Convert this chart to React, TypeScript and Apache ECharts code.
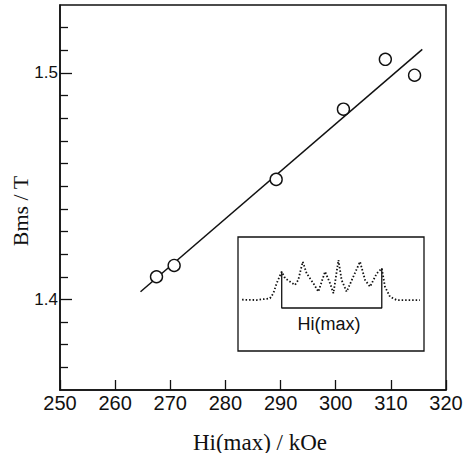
import React, { useEffect, useRef } from "react";
import * as echarts from "echarts";

// Main data: Hi(max) [kOe] vs Bms [T]
const hiMax = [267.5, 270.7, 289.2, 301.4, 309.0, 314.3];
const bms = [1.410, 1.415, 1.453, 1.484, 1.506, 1.499];

// Fitted line end points
const fitX = [264.6, 315.7];
const fitY = [1.4034, 1.5104];

// Axis ticks
const xTicks = [250, 260, 270, 280, 290, 300, 310, 320];
const yMajorTicks = [1.4, 1.5];
const yMinorTicks = [1.37, 1.38, 1.39, 1.41, 1.42, 1.43, 1.44, 1.45, 1.46, 1.47, 1.48, 1.49, 1.51, 1.52];

// Inset spectrum (arbitrary units, 0..100)
const specX = [2.2, 10, 17.2, 19, 20.8, 23.5, 25.3, 28, 30.6, 32.4, 34.8, 36.9, 40.5, 43.2, 46.8, 49.5, 51.3, 54, 55.7, 58.4, 62, 65.6, 68.3, 71, 74.6, 77.3, 79, 81.7, 85.3, 97.8];
const specY = [45, 44.7, 46.2, 50.6, 59.4, 69.6, 63.8, 60.8, 57.9, 62.3, 78.3, 68.1, 59.4, 52, 69.6, 59.4, 50.6, 79.8, 62.3, 52, 65.2, 78.3, 62.3, 56.4, 68.1, 72.5, 56.4, 47.6, 44.7, 44.7];
// Bracket marking Hi(max)
const bracketX = [23.5, 23.5, 77.3, 77.3];
const bracketY = [69.6, 37.7, 37.7, 72.5];

export default function App() {
  const ref = useRef<HTMLDivElement>(null);
  useEffect(() => {
    if (!ref.current) return;
    const chart = echarts.init(ref.current, null, { renderer: "svg" });
    const black = "#111";
    chart.setOption({
      animation: false,
      backgroundColor: "#fff",
      grid: [
        { left: 60, top: 5, width: 386, height: 385, show: true, borderColor: black, borderWidth: 1.5, backgroundColor: "transparent" },
        { left: 238, top: 237, width: 186, height: 114, show: true, borderColor: black, borderWidth: 1.3, backgroundColor: "#fff", z: 5 },
      ],
      xAxis: [
        {
          type: "value", gridIndex: 0, min: 250, max: 320, interval: 10,
          axisLine: { show: true, lineStyle: { color: black, width: 1.5 } },
          axisTick: { show: true, inside: true, length: 10, lineStyle: { color: black, width: 1.3 }, customValues: xTicks },
          axisLabel: { color: black, fontSize: 20, fontFamily: "Liberation Sans", margin: 3, customValues: xTicks },
          splitLine: { show: false },
        },
        { type: "value", gridIndex: 1, min: 0, max: 100, show: false },
      ],
      yAxis: [
        {
          type: "value", gridIndex: 0, min: 1.36, max: 1.53,
          axisLine: { show: true, lineStyle: { color: black, width: 1.5 } },
          axisTick: { show: true, inside: true, length: 12, lineStyle: { color: black, width: 1.3 }, customValues: yMajorTicks },
          axisLabel: { color: black, fontSize: 17, fontFamily: "Liberation Sans", margin: 2, customValues: yMajorTicks, formatter: (v: number) => v.toFixed(1) },
          splitLine: { show: false },
        },
        {
          type: "value", gridIndex: 0, min: 1.36, max: 1.53, position: "left",
          axisLine: { show: false },
          axisTick: { show: true, inside: true, length: 8, lineStyle: { color: black, width: 1.3 }, customValues: yMinorTicks },
          axisLabel: { show: false },
          splitLine: { show: false },
        },
        { type: "value", gridIndex: 1, min: 0, max: 100, show: false },
      ],
      series: [
        {
          type: "line", xAxisIndex: 0, yAxisIndex: 0,
          data: fitX.map((x, i) => [x, fitY[i]]),
          symbol: "none", lineStyle: { color: black, width: 1.5 }, z: 2,
        },
        {
          type: "scatter", xAxisIndex: 0, yAxisIndex: 0,
          data: hiMax.map((x, i) => [x, bms[i]]),
          symbol: "circle", symbolSize: 12,
          itemStyle: { color: "#fff", borderColor: black, borderWidth: 1.4, opacity: 1 },
          z: 3,
        },
        {
          type: "line", xAxisIndex: 1, yAxisIndex: 2,
          data: specX.map((x, i) => [x, specY[i]]),
          symbol: "none", lineStyle: { color: "#111", width: 1.8, type: [1.5, 2] }, z: 6,
        },
        {
          type: "line", xAxisIndex: 1, yAxisIndex: 2,
          data: bracketX.map((x, i) => [x, bracketY[i]]),
          symbol: "none", lineStyle: { color: black, width: 1.3 }, z: 6,
        },
      ],
      graphic: [
        {
          type: "text", x: 20, y: 211, rotation: Math.PI / 2,
          style: { text: "Bms / T", font: "22px 'Liberation Serif'", fill: black, textAlign: "center", textVerticalAlign: "middle" },
        },
        {
          type: "text", x: 260, y: 442,
          style: { text: "Hi(max) / kOe", font: "23px 'Liberation Serif'", fill: black, textAlign: "center", textVerticalAlign: "middle" },
        },
        {
          type: "text", x: 329, y: 324, z: 10,
          style: { text: "Hi(max)", font: "18px 'Liberation Sans'", fill: black, textAlign: "center", textVerticalAlign: "middle" },
        },
      ],
    });
    return () => chart.dispose();
  }, []);
  return <div ref={ref} style={{ position: "fixed", left: 0, top: 0, width: 469, height: 453 }} />;
}
